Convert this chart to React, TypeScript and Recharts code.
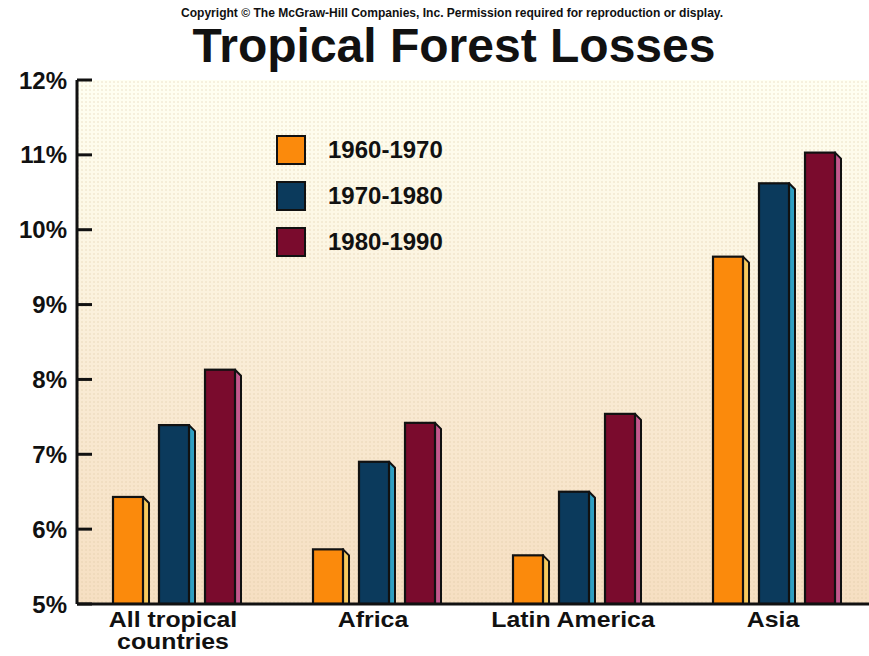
import React from 'react';
import { BarChart, Bar, XAxis, YAxis, CartesianGrid, Legend, ReferenceArea } from 'recharts';

// Percentage of tropical forest lost per decade, by region
const regions = ['All tropical countries', 'Africa', 'Latin America', 'Asia'];
const regionLabelLines = [['All tropical', 'countries'], ['Africa'], ['Latin America'], ['Asia']];
const loss1960s = [6.43, 5.73, 5.65, 9.64];
const loss1970s = [7.39, 6.9, 6.5, 10.62];
const loss1980s = [8.13, 7.42, 7.54, 11.03];
const decadeNames = ['1960-1970', '1970-1980', '1980-1990'];
const percentTicks = [5, 6, 7, 8, 9, 10, 11, 12];

const frontColors = ['#fb8a0c', '#0b3a5c', '#7a0b2d'];
const sideColors = ['#f6c95c', '#2f9fc2', '#c4598e'];

const FONT = '"Liberation Sans", Arial, Helvetica, sans-serif';
const INK = '#111';

const data = regions.map((region, i) => ({
  region,
  d60: loss1960s[i],
  d70: loss1970s[i],
  d80: loss1980s[i],
}));

// Bar with a narrow lit side face and a bevelled top corner
const makeBox = (sideColor: string) => (props: any) => {
  const { x, y, width, height, fill } = props;
  if (!height || height <= 0) return <g />;
  const depth = 6;
  const fw = width - depth;
  const base = y + height;
  return (
    <g>
      <polygon
        points={`${x + fw},${y} ${x + width},${y + depth} ${x + width},${base} ${x + fw},${base}`}
        fill={sideColor}
        stroke={INK}
        strokeWidth={2}
        strokeLinejoin="round"
      />
      <rect x={x} y={y} width={fw} height={height} fill={fill} stroke={INK} strokeWidth={2.2} />
    </g>
  );
};

const TICK_GAP = 10;

const YTick = (props: any) => {
  const { x, y, payload } = props;
  const axisX = x + TICK_GAP;
  return (
    <g>
      <line x1={axisX} x2={axisX + 15} y1={y} y2={y} stroke={INK} strokeWidth={3} />
      <text
        x={x}
        y={y}
        dy="0.36em"
        textAnchor="end"
        fontFamily={FONT}
        fontWeight="bold"
        fontSize={24}
        fill={INK}
      >
        {`${payload.value}%`}
      </text>
    </g>
  );
};

// Category names in a slightly widened bold face, wrapped onto two lines where needed
const XTick = (props: any) => {
  const { x, y, index } = props;
  const lines = regionLabelLines[index] || [props.payload.value];
  return (
    <g transform={`translate(${x - 4},${y}) scale(1.13,1)`}>
      {lines.map((line: string, i: number) => (
        <text
          key={line}
          x={0}
          y={23 + i * 22.5}
          textAnchor="middle"
          fontFamily={FONT}
          fontWeight="bold"
          fontSize={22}
          fill={INK}
        >
          {line}
        </text>
      ))}
    </g>
  );
};

const LegendBox = (props: any) => {
  const items = props.payload || [];
  return (
    <div style={{ fontFamily: FONT }}>
      {items.map((item: any, i: number) => (
        <div key={item.value} style={{ display: 'flex', alignItems: 'center', height: 30, marginBottom: i < items.length - 1 ? 16 : 0 }}>
          <div
            style={{
              width: 30,
              height: 30,
              boxSizing: 'border-box',
              border: `2px solid ${INK}`,
              background: frontColors[i],
            }}
          />
          <span style={{ marginLeft: 22, fontSize: 24, fontWeight: 'bold', color: INK, lineHeight: '30px' }}>
            {item.value}
          </span>
        </div>
      ))}
    </div>
  );
};

export default function App() {
  return (
    <div style={{ position: 'fixed', left: 0, top: 0, width: 869, height: 656, overflow: 'hidden', background: '#fff' }}>
      <BarChart
        width={877}
        height={656}
        data={data}
        margin={{ top: 80, right: 0, bottom: 0, left: 0 }}
        barSize={36}
        barGap={10}
      >
        <defs>
          <linearGradient id="plotBg" x1="0" y1="0" x2="0" y2="1">
            <stop offset="0%" stopColor="#fffff2" />
            <stop offset="25%" stopColor="#fdf8e6" />
            <stop offset="60%" stopColor="#f9ead3" />
            <stop offset="100%" stopColor="#f6dfc2" />
          </linearGradient>
          <pattern id="halftone" width="4" height="4" patternUnits="userSpaceOnUse">
            <circle cx="2" cy="2" r="0.9" fill="#d9c29c" fillOpacity="0.35" />
          </pattern>
        </defs>
        <CartesianGrid horizontal={false} vertical={false} fill="url(#plotBg)" />
        <ReferenceArea y1={5} y2={12} fill="url(#halftone)" fillOpacity={1} stroke="none" ifOverflow="hidden" />
        <XAxis
          dataKey="region"
          height={52}
          tickLine={false}
          tickSize={0}
          tickMargin={0}
          interval={0}
          axisLine={{ stroke: INK, strokeWidth: 3 }}
          tick={<XTick />}
        />
        <YAxis
          type="number"
          domain={[5, 12]}
          ticks={percentTicks}
          interval={0}
          allowDataOverflow
          width={77}
          tickLine={false}
          tickSize={0}
          tickMargin={TICK_GAP}
          axisLine={{ stroke: INK, strokeWidth: 3 }}
          tick={<YTick />}
        />
        <Legend
          layout="vertical"
          align="center"
          verticalAlign="middle"
          wrapperStyle={{ left: 276, top: 135, width: 'auto' }}
          content={<LegendBox />}
        />
        <Bar dataKey="d60" name={decadeNames[0]} fill={frontColors[0]} shape={makeBox(sideColors[0])} isAnimationActive={false} />
        <Bar dataKey="d70" name={decadeNames[1]} fill={frontColors[1]} shape={makeBox(sideColors[1])} isAnimationActive={false} />
        <Bar dataKey="d80" name={decadeNames[2]} fill={frontColors[2]} shape={makeBox(sideColors[2])} isAnimationActive={false} />
      </BarChart>
      <svg width={869} height={78} style={{ position: 'absolute', left: 0, top: 0, pointerEvents: 'none' }}>
        <text
          x={181}
          y={17}
          fontFamily={FONT}
          fontWeight="bold"
          fontSize={12}
          textLength={542}
          lengthAdjust="spacingAndGlyphs"
          fill={INK}
        >
          Copyright © The McGraw-Hill Companies, Inc. Permission required for reproduction or display.
        </text>
        <text x={454} y={62} textAnchor="middle" fontFamily={FONT} fontWeight="bold" fontSize={48} fill={INK}>
          Tropical Forest Losses
        </text>
      </svg>
    </div>
  );
}
